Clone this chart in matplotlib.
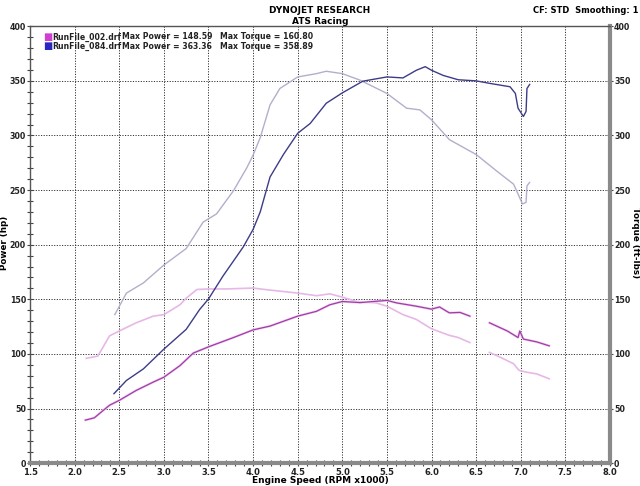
import numpy as np
import matplotlib
matplotlib.use('Agg')
import matplotlib.pyplot as plt
from matplotlib.ticker import MultipleLocator

nan = np.nan

# RunFile_084 (blue)
rpm_084_pwr = [2.44, 2.58, 2.77, 3.0, 3.25, 3.40, 3.5, 3.66, 3.89, 4.0, 4.08, 4.19, 4.34, 4.5,
               4.64, 4.82, 5.0, 5.23, 5.5, 5.68, 5.83, 5.93, 6.0, 6.13, 6.3, 6.5, 6.66, 6.88,
               6.94, 6.97, 7.03, 7.06, 7.07, 7.10]
pwr_084 = [63.6, 75.7, 86.3, 104.4, 122.5, 140.6, 150.3, 171, 198, 214, 230, 262, 282.6, 302,
           311, 329.5, 339, 349.7, 353.6, 352.7, 359.7, 363, 359.7, 355, 351, 350, 347.6, 344.6,
           338.5, 325, 317.4, 322, 343, 346.7]

rpm_084_trq = [2.45, 2.58, 2.77, 3.0, 3.25, 3.44, 3.59, 3.78, 3.93, 4.0, 4.08, 4.19, 4.30, 4.5,
               4.71, 4.82, 5.0, 5.2, 5.5, 5.72, 5.87, 6.0, 6.2, 6.5, 6.73, 6.92, 6.97, 7.02,
               7.06, 7.07, 7.10]
trq_084 = [136, 155.7, 165, 181.4, 196.5, 220.7, 228.2, 249.4, 270.5, 282, 298, 328, 343, 353.6,
           356.6, 358.8, 356.6, 350.6, 338.5, 325, 323.4, 314.4, 296.2, 282.6, 267.5, 255.4,
           246.4, 237.3, 238.8, 253.9, 257]

# RunFile_002 (magenta), gap between 6.45 and 6.65
rpm_002_pwr = [2.12, 2.22, 2.39, 2.5, 2.69, 2.88, 3.0, 3.18, 3.33, 3.51, 3.78, 4.0, 4.19, 4.5,
               4.71, 4.86, 5.0, 5.2, 5.5, 5.61, 5.83, 6.0, 6.09, 6.2, 6.32, 6.43, 6.54,
               6.65, 6.73, 6.85, 6.97, 6.99, 7.03, 7.18, 7.32]
pwr_002 = [39.4, 41.5, 53, 57.5, 66.6, 74.2, 78.7, 89.3, 100.8, 106.8, 115, 122, 125.5, 134.6,
           139, 145, 148, 147, 149, 146.7, 143.7, 141, 143, 137.6, 138, 134.6, nan,
           128.5, 125.5, 121, 115, 121, 113.6, 111, 107.4]

rpm_002_trq = [2.13, 2.26, 2.39, 2.5, 2.69, 2.88, 3.0, 3.18, 3.25, 3.37, 3.51, 3.70, 4.0, 4.15,
               4.5, 4.71, 4.86, 5.0, 5.16, 5.38, 5.5, 5.68, 5.83, 6.0, 6.2, 6.3, 6.43, 6.54,
               6.65, 6.77, 6.92, 6.98, 7.07, 7.18, 7.32]
trq_002 = [96, 98, 116.5, 121, 128.5, 134.6, 136, 145, 151, 159, 159.5, 159.5, 160.3, 158.8,
           155.7, 153.3, 155, 152, 148, 146.7, 143.7, 136, 131.6, 123, 117, 115, 110.4, nan,
           101.4, 97, 91, 85, 83.2, 81.7, 77.2]

fig = plt.figure(figsize=(6.4, 4.86), dpi=100)
ax = fig.add_axes([0.047, 0.047, 0.906, 0.899])

ax.plot(rpm_084_trq, trq_084, color='#b0b0cc', lw=1.0)
ax.plot(rpm_002_trq, trq_002, color='#e6b8e6', lw=1.2)
ax.plot(rpm_002_pwr, pwr_002, color='#f0d0f0', lw=1.8)
ax.plot(rpm_002_pwr, pwr_002, color='#a03ca8', lw=0.9)
ax.plot(rpm_084_pwr, pwr_084, color='#3c3c88', lw=1.0)

ax.set_xlim(1.5, 8.0)
ax.set_ylim(0, 400)
ax.xaxis.set_major_locator(MultipleLocator(0.5))
ax.xaxis.set_minor_locator(MultipleLocator(0.1))
ax.yaxis.set_major_locator(MultipleLocator(50))
ax.yaxis.set_minor_locator(MultipleLocator(10))
ax.xaxis.set_major_formatter(plt.FuncFormatter(lambda v, p: '%.1f' % v))
ax.grid(True, which='major', color='#333333', ls=(0, (1.2, 1.5)), lw=0.7)

ax.tick_params(which='both', direction='inout', colors='#444444', labelcolor='#222222',
               labelsize=6, pad=1)
ax.tick_params(which='major', length=5, width=0.8)
ax.tick_params(which='minor', length=4, width=0.8)
ax.tick_params(axis='y', right=True, labelright=True, labelsize=5.7, pad=0.5)
for lab in ax.get_xticklabels() + ax.get_yticklabels():
    lab.set_fontweight('bold')

for side in ['left', 'top']:
    ax.spines[side].set_color('#555555')
    ax.spines[side].set_linewidth(1.0)
for side in ['right', 'bottom']:
    ax.spines[side].set_color('#8a8a8a')
    ax.spines[side].set_linewidth(3.0)

fig.text(0.5, 0.011, 'Engine Speed (RPM x1000)', fontsize=6.5, fontweight='bold',
         ha='center', va='center')
fig.text(0.007, 0.5, 'Power (hp)', rotation=90, fontsize=6.3, fontweight='bold',
         ha='center', va='center')
fig.text(0.993, 0.5, 'Torque (ft-lbs)', rotation=-90, fontsize=6.3, fontweight='bold',
         ha='center', va='center')

fig.text(0.5, 0.988, 'DYNOJET RESEARCH', fontsize=6.5, fontweight='bold', ha='center', va='top')
fig.text(0.5, 0.966, 'ATS Racing', fontsize=6.5, fontweight='bold', ha='center', va='top')
fig.text(0.998, 0.988, 'CF: STD  Smoothing: 1', fontsize=6, fontweight='bold',
         ha='right', va='top')

# legend
legend_rows = [('#d040d0', 'RunFile_002.drf', 'Max Power = 148.59', 'Max Torque = 160.80'),
               ('#2828c0', 'RunFile_084.drf', 'Max Power = 363.36', 'Max Torque = 358.89')]
for i, (col, name, mp, mt) in enumerate(legend_rows):
    y = 0.924 - i * 0.019
    fig.text(0.068, y, '\u25a0', color=col, fontsize=7, va='center', ha='left')
    fig.text(0.082, y, name, fontsize=5.6, fontweight='bold', va='center', color='#222222')
    fig.text(0.191, y, mp, fontsize=5.6, fontweight='bold', va='center', color='#222222')
    fig.text(0.343, y, mt, fontsize=5.6, fontweight='bold', va='center', color='#222222')

fig.savefig('out.png', dpi=100)
